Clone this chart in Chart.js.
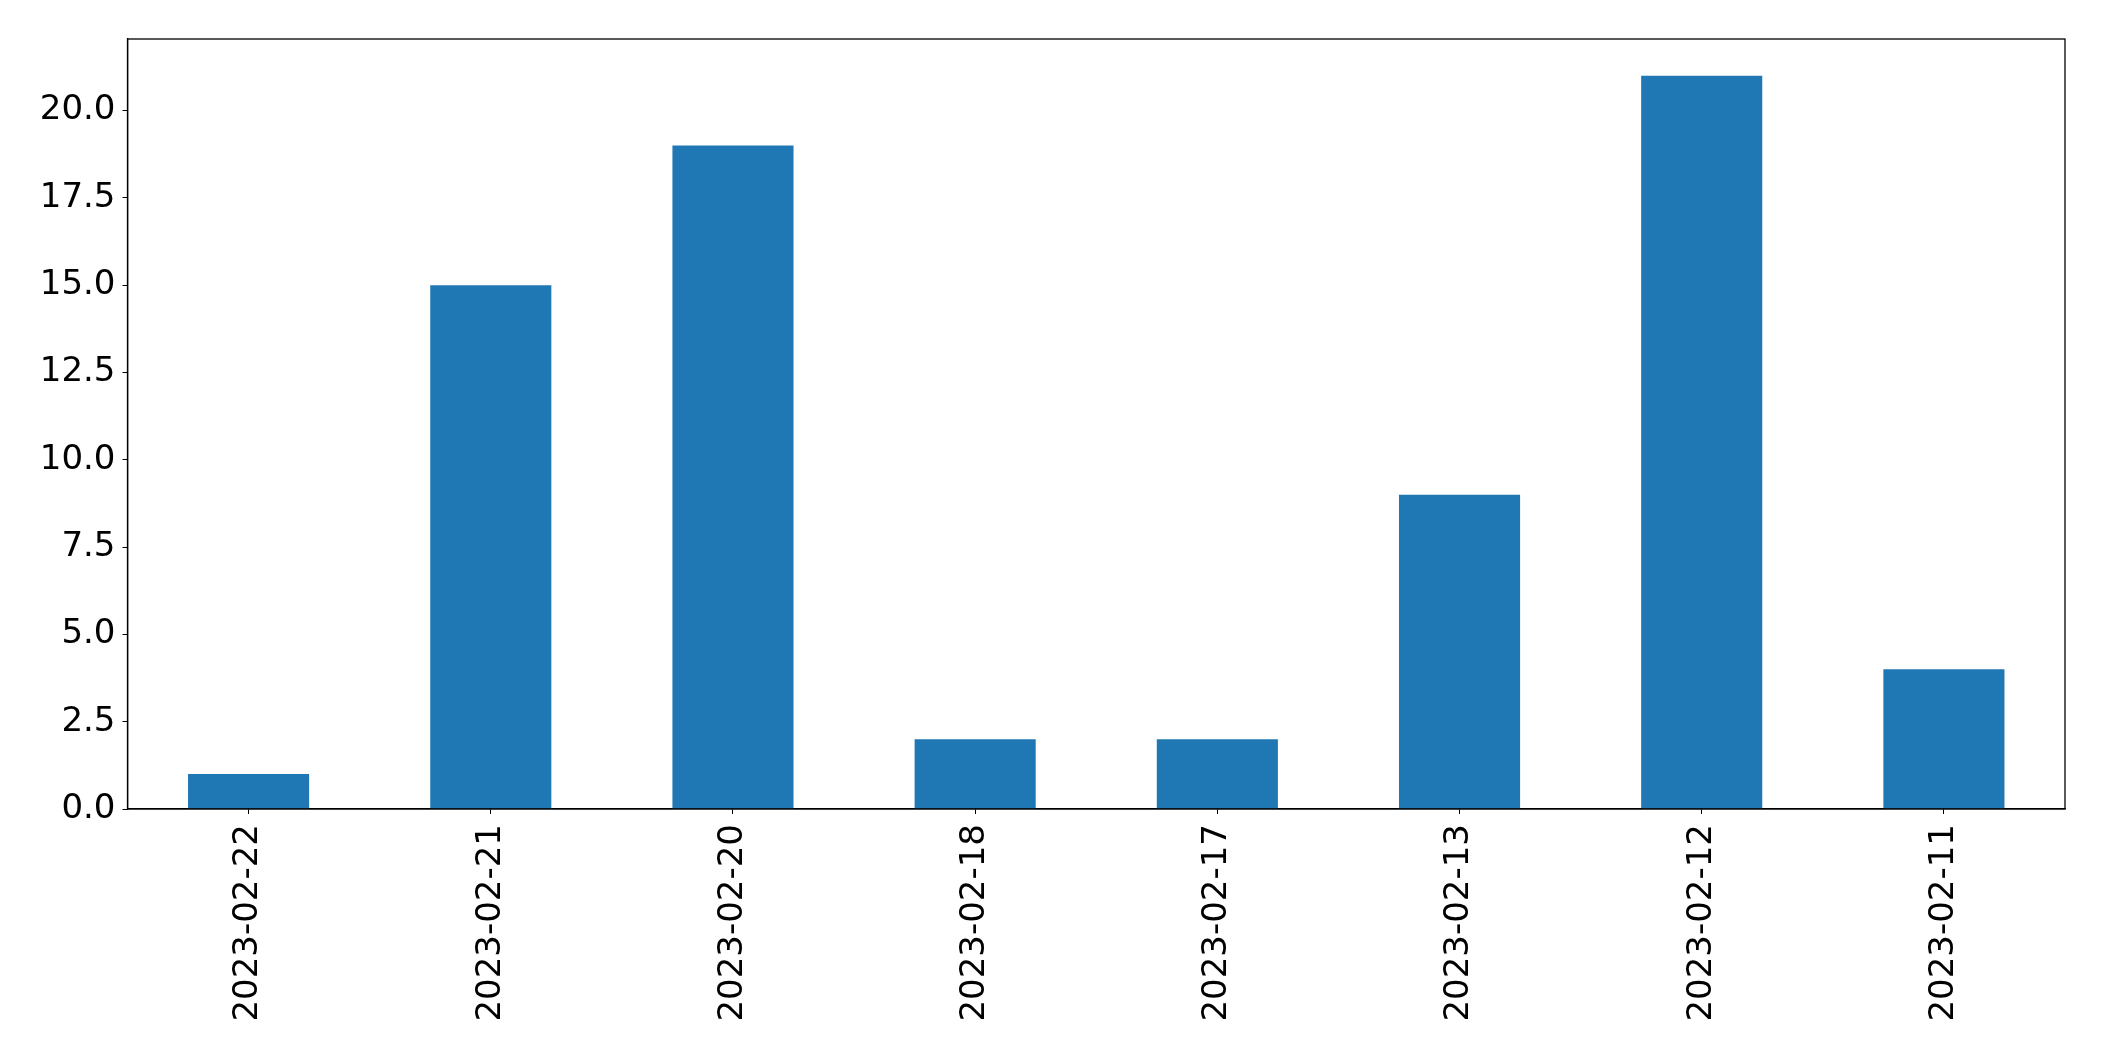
<!DOCTYPE html>
<html>
<head>
<meta charset="utf-8">
<style>
html,body{margin:0;padding:0;background:#fff;}
#c{display:block;}
</style>
<script src="https://cdn.jsdelivr.net/npm/chart.js@4.4.0/dist/chart.umd.min.js"></script>
</head>
<body>
<canvas id="c" width="2104" height="1061"></canvas>
<script>
const categories = ["2023-02-22","2023-02-21","2023-02-20","2023-02-18","2023-02-17","2023-02-13","2023-02-12","2023-02-11"];
const values = [1, 15, 19, 2, 2, 9, 21, 4];
const yTicks = [0, 2.5, 5, 7.5, 10, 12.5, 15, 17.5, 20];

const frame = {
  id: 'frame',
  afterDraw(chart) {
    const {ctx, chartArea: a} = chart;
    ctx.save();
    ctx.strokeStyle = '#000';
    ctx.lineWidth = 1.3;
    ctx.strokeRect(a.left, a.top, a.right - a.left, a.bottom - a.top);
    ctx.restore();
  }
};

Chart.defaults.color = '#000';
Chart.defaults.font.family = 'DejaVu Sans';

new Chart(document.getElementById('c'), {
  type: 'bar',
  data: {
    labels: categories,
    datasets: [{
      data: values,
      backgroundColor: '#1f77b4',
      borderWidth: 0,
      categoryPercentage: 1.0,
      barPercentage: 0.5
    }]
  },
  options: {
    responsive: false,
    animation: false,
    layout: {padding: {top: 39, right: 39, left: 0, bottom: 0}},
    plugins: {legend: {display: false}, tooltip: {enabled: false}},
    scales: {
      x: {
        offset: true,
        grid: {display: true, drawOnChartArea: false, drawTicks: true, tickLength: 5, color: '#000', offset: false},
        border: {display: true, color: '#000', width: 1.3},
        ticks: {minRotation: 90, maxRotation: 90, padding: 10, font: {size: 34}, autoSkip: false},
        afterFit(scale) { scale.height = 1061 - 809; }
      },
      y: {
        min: 0,
        max: 22.05,
        grid: {display: true, drawOnChartArea: false, drawTicks: true, tickLength: 5, color: '#000'},
        border: {display: true, color: '#000', width: 1.3},
        ticks: {padding: 7, font: {size: 34}, stepSize: 2.5, callback: v => Number(v).toFixed(1)},
        afterBuildTicks(scale) { scale.ticks = yTicks.map(v => ({value: v})); },
        afterFit(scale) { scale.width = 127.5; }
      }
    }
  },
  plugins: [frame]
});
</script>
</body>
</html>
